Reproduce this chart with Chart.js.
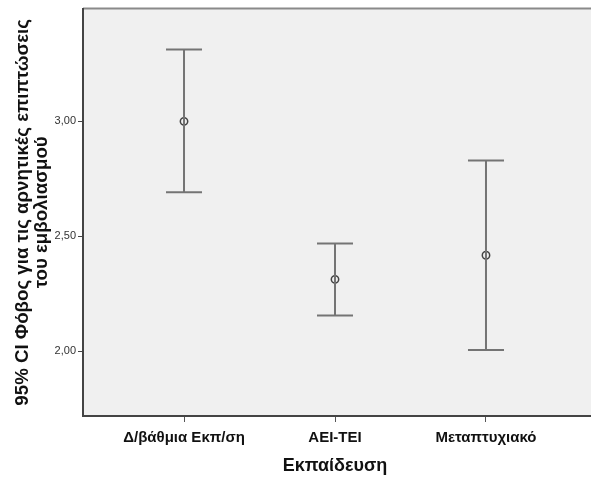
<!DOCTYPE html>
<html><head><meta charset="utf-8">
<script src="https://cdn.jsdelivr.net/npm/chart.js@4"></script>
<style>
html,body{margin:0;padding:0;background:#fff;overflow:hidden;}
#wrap{width:591px;height:477px;position:relative;}
</style></head>
<body><div id="wrap"><canvas id="c"></canvas></div>
<script>
const categories = ["Δ/βάθμια Εκπ/ση", "ΑΕΙ-ΤΕΙ", "Μεταπτυχιακό"];
const means = [3.00, 2.312, 2.417];
const lowerCI = [2.691, 2.155, 2.004];
const upperCI = [3.313, 2.468, 2.830];
const yTicks = [2.0, 2.5, 3.0];
const yTitle = ["95% CI Φόβος για τις αρνητικές επιπτώσεις", "του εμβολιασμού"];
const xTitle = "Εκπαίδευση";

const barColor = "#747474";
const datasets = categories.map((c, i) => ({
  type: "line",
  data: [{x: i + 1, y: lowerCI[i]}, {x: i + 1, y: upperCI[i]}],
  borderColor: barColor,
  borderWidth: 2,
  pointStyle: "line",
  pointRadius: 18,
  pointBorderColor: barColor,
  pointBorderWidth: 2,
  pointHoverRadius: 18,
  fill: false
}));
datasets.push({
  type: "scatter",
  data: means.map((m, i) => ({x: i + 1, y: m})),
  pointStyle: "circle",
  pointRadius: 3.7,
  pointBorderWidth: 1.5,
  pointBorderColor: "#444",
  pointBackgroundColor: "rgba(0,0,0,0)"
});

const bgPlugin = {
  id: "bg",
  beforeDraw(chart) {
    const {ctx, chartArea: a, width} = chart;
    ctx.save();
    ctx.fillStyle = "#f0f0f0";
    ctx.fillRect(a.left, a.top, width - a.left, a.bottom - a.top);
    ctx.strokeStyle = "#8a8a8a";
    ctx.lineWidth = 2;
    ctx.beginPath();
    ctx.moveTo(a.left, a.top);
    ctx.lineTo(width, a.top);
    ctx.stroke();
    ctx.strokeStyle = "#444";
    ctx.beginPath();
    ctx.moveTo(a.left, a.bottom);
    ctx.lineTo(width, a.bottom);
    ctx.stroke();
    ctx.restore();
  }
};

new Chart(document.getElementById("c"), {
  data: {datasets},
  plugins: [bgPlugin],
  options: {
    responsive: true,
    maintainAspectRatio: false,
    animation: false,
    layout: {autoPadding: false, padding: {top: 8, right: 4, left: 0, bottom: 0}},
    plugins: {legend: {display: false}, tooltip: {enabled: false}},
    scales: {
      x: {
        type: "linear",
        min: 0.331,
        max: 3.669,
        afterBuildTicks(s) { s.ticks = [1, 2, 3].map(v => ({value: v})); },
        afterFit(s) { s.height = 61; },
        ticks: {
          callback: (v) => categories[v - 1],
          font: {family: "Liberation Sans, Arial", size: 15, weight: "bold"},
          color: "#111",
          padding: 7,
          maxRotation: 0,
          autoSkip: false
        },
        grid: {drawOnChartArea: false, tickLength: 6, color: "#555", lineWidth: 1},
        border: {display: true, color: "#444", width: 2},
        title: {
          display: true,
          text: xTitle,
          font: {family: "Liberation Sans, Arial", size: 18, weight: "bold"},
          color: "#111",
          padding: {top: 2, bottom: 0}
        }
      },
      y: {
        type: "linear",
        min: 1.717,
        max: 3.491,
        afterBuildTicks(s) { s.ticks = yTicks.map(v => ({value: v})); },
        afterFit(s) { s.width = 83; },
        ticks: {
          callback: (v) => v.toFixed(2).replace(".", ","),
          font: {family: "Liberation Sans, Arial", size: 11},
          color: "#333",
          padding: 2
        },
        grid: {drawOnChartArea: false, tickLength: 5, color: "#444", lineWidth: 1},
        border: {display: true, color: "#444", width: 2},
        title: {
          display: true,
          text: yTitle,
          font: {family: "Liberation Sans, Arial", size: 18.7, weight: "bold", lineHeight: 0.98},
          color: "#111",
          padding: {top: 14, bottom: 0}
        }
      }
    }
  }
});
</script></body></html>
